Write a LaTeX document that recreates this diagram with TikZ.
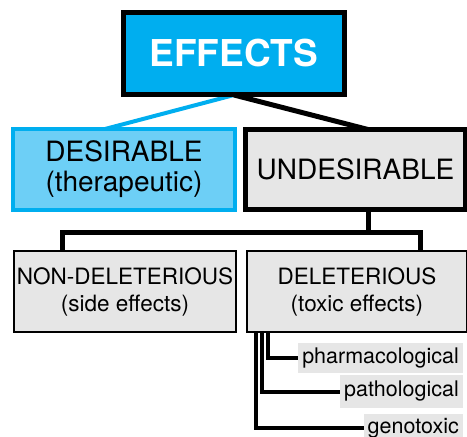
\documentclass[tikz,border=0pt]{standalone}
\usepackage{fontspec}
\setmainfont{TeX Gyre Heros}
\usetikzlibrary{backgrounds}
\definecolor{cyanA}{HTML}{00AEEF}
\definecolor{cyanL}{HTML}{6DCFF6}
\definecolor{grayF}{HTML}{E6E6E6}
\begin{document}
\begin{tikzpicture}[x=1pt,y=-1pt,
  bigbox/.style={draw, rectangle, align=center, inner sep=0pt, font=\fontsize{28}{30}\selectfont},
  midbox/.style={draw, rectangle, align=center, inner sep=0pt, line width=2pt, fill=grayF, font=\fontsize{22.5}{27}\selectfont},
  tag/.style={fill=grayF, inner xsep=4pt, inner ysep=0pt, anchor=east, font=\fontsize{21.5}{24}\selectfont},
  link/.style={line width=5pt},
  twig/.style={line width=4pt}]
\useasboundingbox (0,0) rectangle (467,437);
\node[bigbox, line width=5pt, fill=cyanA, text=white, font=\fontsize{37}{40}\selectfont\bfseries,
  minimum width=221pt, minimum height=82pt] (eff) at (234,53.5) {EFFECTS};
\node[bigbox, line width=4pt, draw=cyanA, fill=cyanL, minimum width=222pt, minimum height=81pt]
  (des) at (124,169.5) {DESIRABLE\\(therapeutic)};
\node[bigbox, line width=5pt, fill=grayF, minimum width=220pt, minimum height=80pt]
  (und) at (355.5,169.5) {UNDESIRABLE};
\node[midbox, minimum width=222pt, minimum height=81pt] (non) at (125,291.5) {NON-DELETERIOUS\\(side effects)};
\node[midbox, minimum width=220pt, minimum height=81pt] (del) at (357,291.5) {DELETERIOUS\\(toxic effects)};
\node[tag, minimum height=30pt] (pha) at (463,358) {pharmacological};
\node[tag, minimum height=33pt] (pat) at (463,391.5) {pathological};
\node[tag, minimum height=28pt] (gen) at (463,428) {genotoxic};
\coordinate (ebot) at (234,95);
\coordinate (dtop) at (105,129);
\coordinate (utop) at (368,129.5);
\coordinate (ubot) at (368,209.5);
\coordinate (junc) at (368,232);
\coordinate (nl) at (62,251);
\coordinate (nr) at (420,251);
\coordinate (b1) at (256,332);
\coordinate (b2) at (262,332);
\coordinate (b3) at (268,332);
\begin{pgfonlayer}{background}
\draw[cyanA, line width=4pt] (ebot) -- (dtop);
\draw[link] (ebot) -- (utop);
\draw[link] (ubot) -- (junc);
\draw[link, line join=miter] (nl) |- (junc) -| (nr);
\draw[twig, line join=miter] (b3) |- (pha.west);
\draw[twig, line join=miter] (b2) |- (pat.west);
\draw[twig, line join=miter] (b1) |- (gen.west);
\end{pgfonlayer}
\end{tikzpicture}
\end{document}
